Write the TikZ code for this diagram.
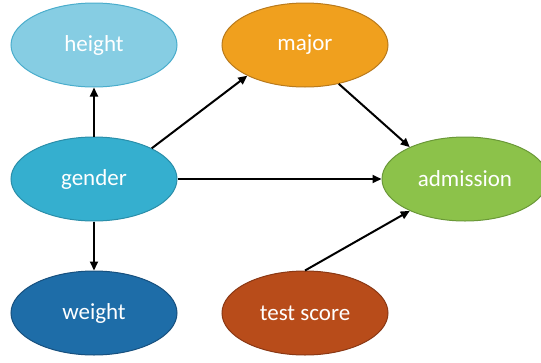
\documentclass[tikz,border=0pt]{standalone}
\usepackage{fontspec}
\setmainfont{Carlito}
\usetikzlibrary{shapes.geometric,arrows.meta}
\definecolor{cHeight}{HTML}{86CDE3}
\definecolor{cHeightB}{HTML}{4AADCC}
\definecolor{cGender}{HTML}{35AFCF}
\definecolor{cGenderB}{HTML}{2A8EA9}
\definecolor{cWeight}{HTML}{1E6DA8}
\definecolor{cWeightB}{HTML}{17507E}
\definecolor{cMajor}{HTML}{F0A01E}
\definecolor{cMajorB}{HTML}{B97A1C}
\definecolor{cAdm}{HTML}{8CC24A}
\definecolor{cAdmB}{HTML}{6A9838}
\definecolor{cTest}{HTML}{B84C1A}
\definecolor{cTestB}{HTML}{8A3814}
\tikzset{
  var/.style={ellipse, minimum width=166pt, minimum height=84pt, inner sep=0pt,
    line width=1pt, text=white, font=\fontsize{23}{27}\selectfont},
  arr/.style={line width=2pt, -{Triangle[length=9pt,width=8pt]}}
}
\begin{document}
\begin{tikzpicture}[x=1pt,y=-1pt]
\useasboundingbox (0,0) rectangle (541,362);
\node[var, fill=cHeight, draw=cHeightB] (height) at (94,45) {\raisebox{-2pt}{height}};
\node[var, fill=cGender, draw=cGenderB] (gender) at (94,179) {\raisebox{-2pt}{gender}};
\node[var, fill=cWeight, draw=cWeightB] (weight) at (94,313) {\raisebox{-2pt}{weight}};
\node[var, fill=cMajor, draw=cMajorB] (major) at (305,45) {\raisebox{-2pt}{major}};
\node[var, fill=cAdm, draw=cAdmB] (admission) at (465,179) {\raisebox{-2pt}{admission}};
\node[var, fill=cTest, draw=cTestB] (test) at (305,313) {\raisebox{-2pt}{test score}};
\draw[arr] (gender.north) -- (height.south);
\draw[arr] (gender.south) -- (weight.north);
\draw[arr] (gender.28) -- (major.208);
\draw[arr] (gender.east) -- (admission.west);
\draw[arr] (major.-49) -- (admission.150);
\draw[arr] (test.north) -- (admission.210);
\end{tikzpicture}
\end{document}
